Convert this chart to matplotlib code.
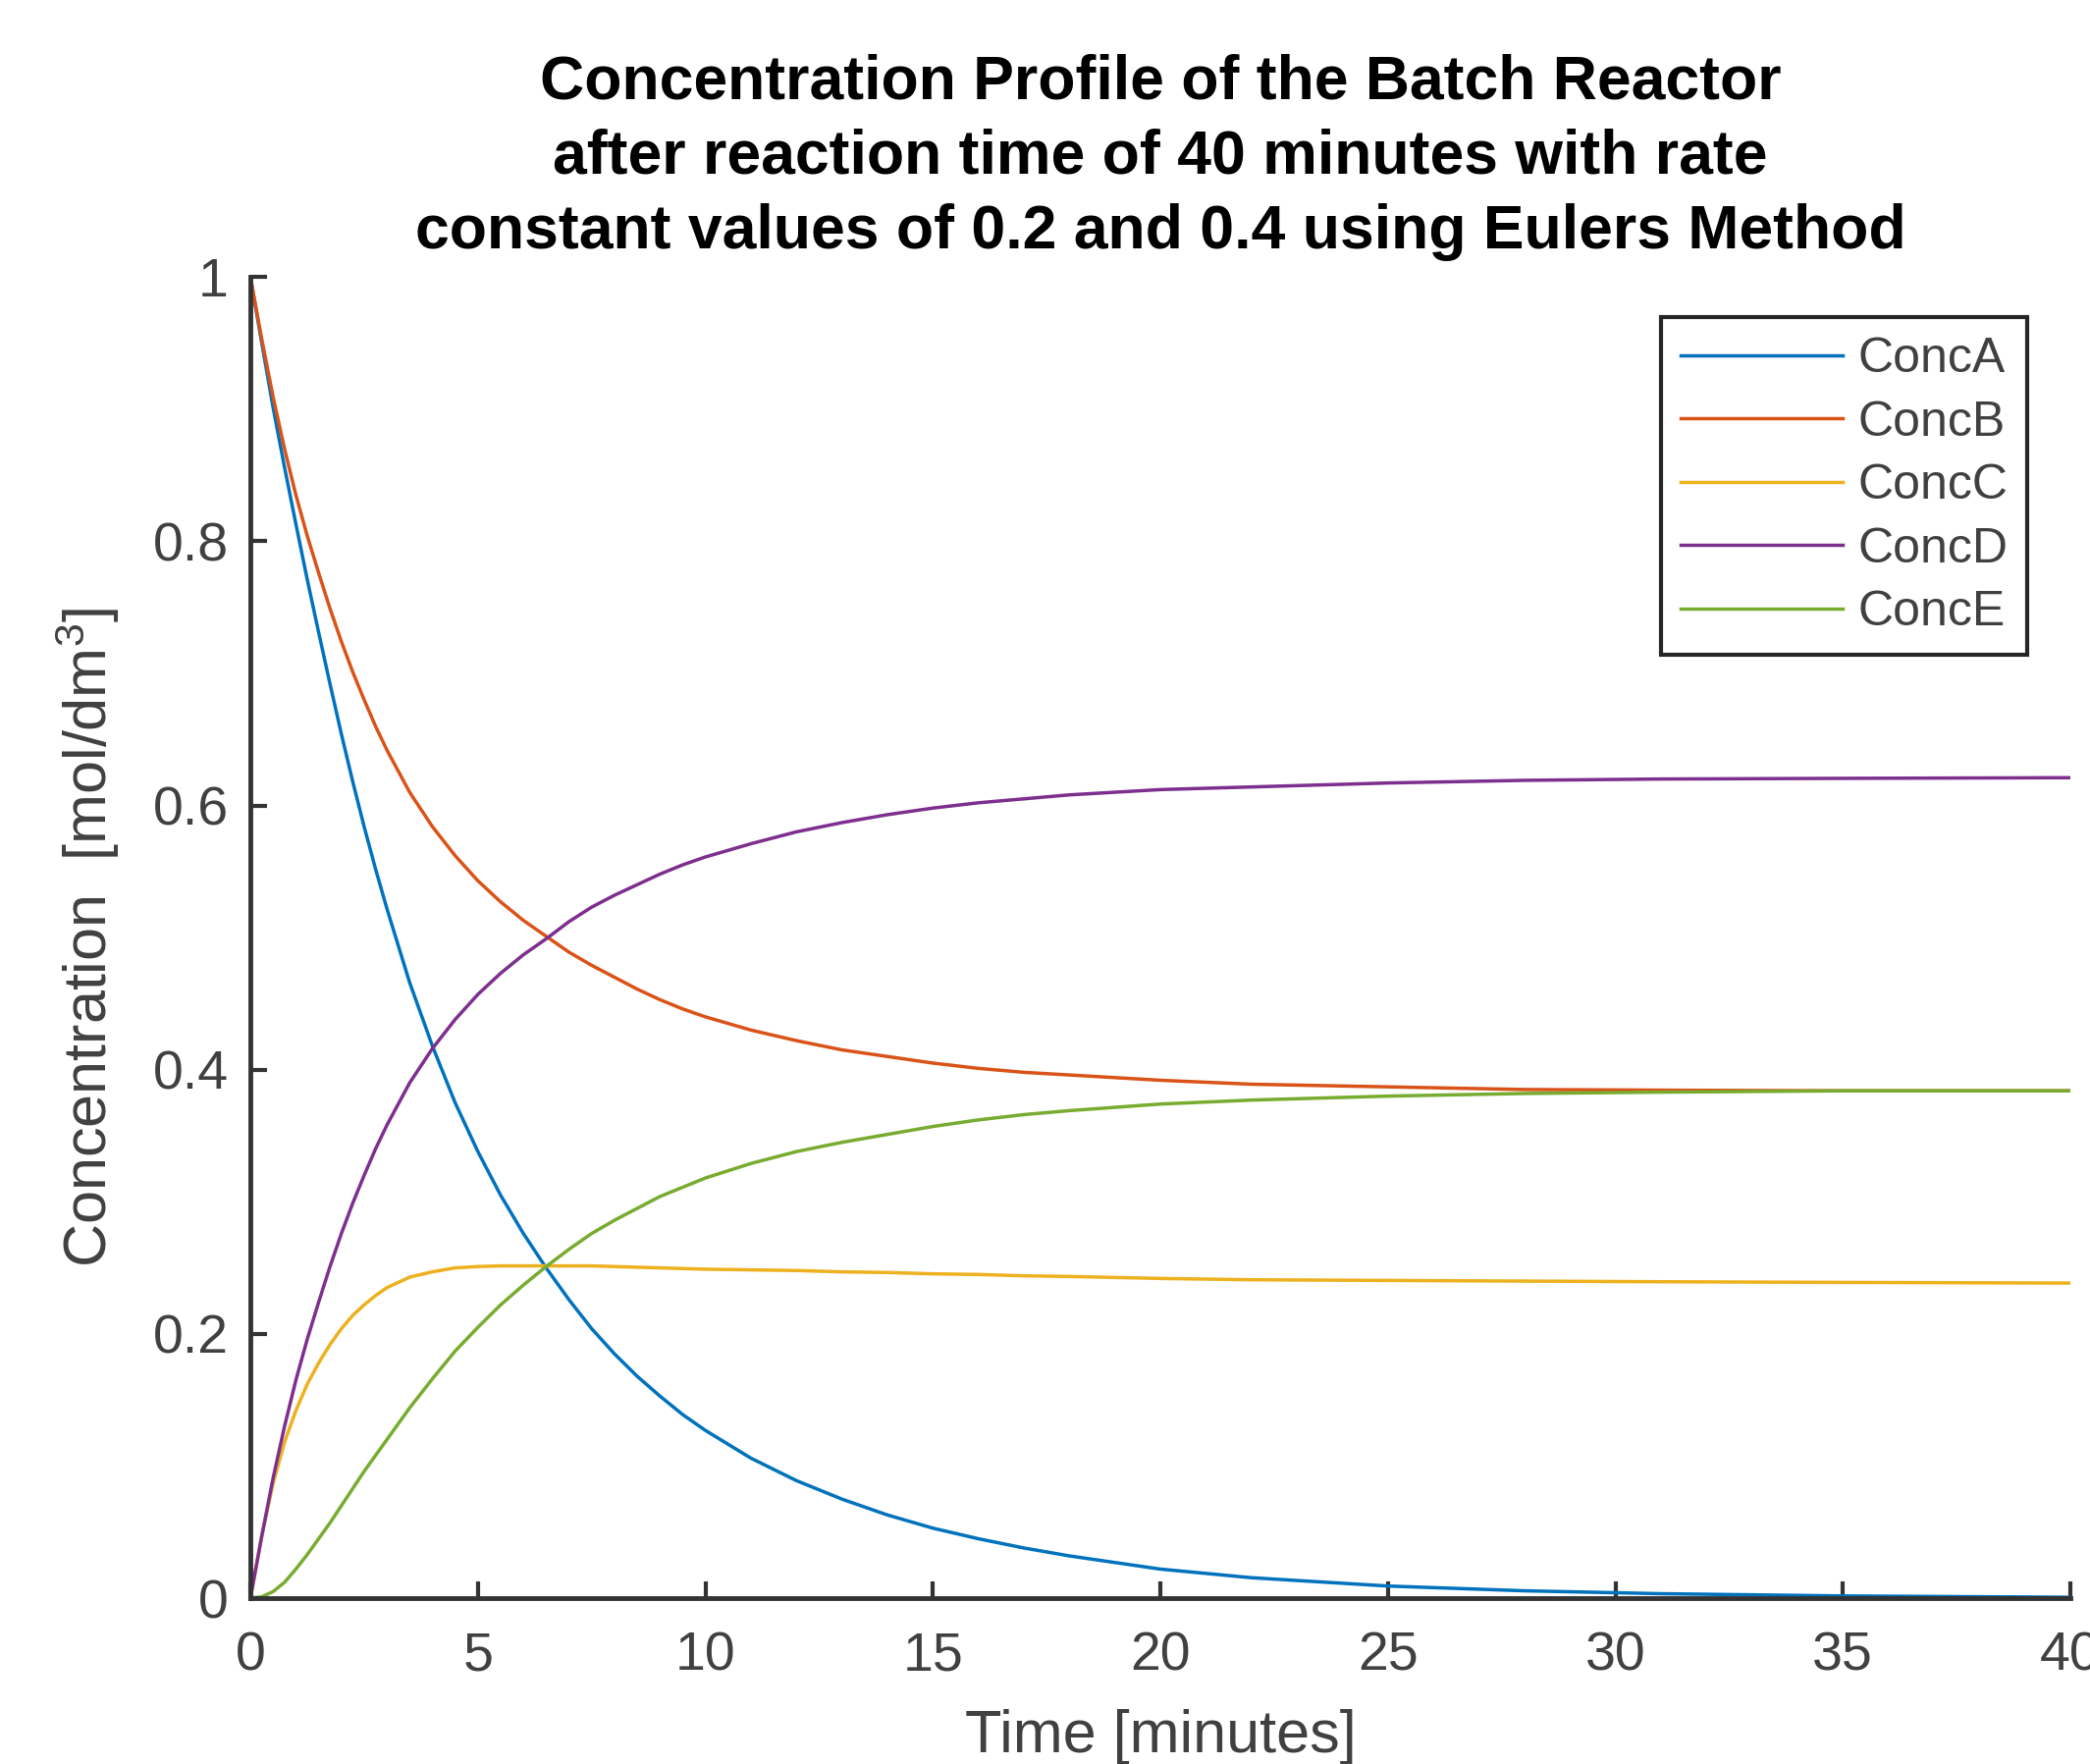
import matplotlib
matplotlib.use("Agg")
import matplotlib.pyplot as plt

plt.rcParams['font.family'] = ['Liberation Sans', 'DejaVu Sans']
plt.rcParams['mathtext.default'] = 'regular'

# values
time_min = [0, 0.25, 0.5, 0.75, 1, 1.25, 1.5, 1.75, 2, 2.25, 2.5, 2.75, 3, 3.5, 4,
            4.5, 5, 5.5, 6, 6.5, 7, 7.5, 8, 8.5, 9, 9.5, 10, 11, 12, 13, 14, 15,
            16, 17, 18, 20, 22, 25, 28, 31, 35, 40]
conc_a = [1.000, 0.950, 0.901, 0.856, 0.813, 0.771, 0.731, 0.692, 0.654, 0.618,
          0.584, 0.552, 0.522, 0.466, 0.418, 0.375, 0.338, 0.305, 0.276, 0.250,
          0.226, 0.204, 0.185, 0.168, 0.153, 0.139, 0.127, 0.106, 0.089, 0.075,
          0.063, 0.053, 0.045, 0.038, 0.032, 0.022, 0.0155, 0.0092, 0.0056,
          0.0034, 0.0017, 0.0007]
conc_b = [1.000, 0.953, 0.909, 0.870, 0.835, 0.804, 0.776, 0.749, 0.724, 0.701,
          0.680, 0.660, 0.642, 0.610, 0.584, 0.562, 0.543, 0.527, 0.513, 0.501,
          0.489, 0.479, 0.470, 0.461, 0.453, 0.446, 0.440, 0.430, 0.422, 0.415,
          0.410, 0.405, 0.401, 0.398, 0.396, 0.392, 0.389, 0.387, 0.385, 0.3845,
          0.384, 0.384]
conc_c = [0, 0.047, 0.087, 0.118, 0.142, 0.162, 0.178, 0.192, 0.204, 0.214,
          0.222, 0.229, 0.235, 0.243, 0.247, 0.250, 0.251, 0.2515, 0.2515, 0.2515,
          0.2515, 0.2515, 0.251, 0.2505, 0.250, 0.2495, 0.249, 0.2485, 0.248,
          0.247, 0.2465, 0.2455, 0.245, 0.244, 0.2435, 0.242, 0.241, 0.2405,
          0.240, 0.2395, 0.239, 0.2385]
conc_d = [0, 0.047, 0.091, 0.130, 0.165, 0.196, 0.224, 0.251, 0.276, 0.299,
          0.320, 0.340, 0.358, 0.390, 0.416, 0.438, 0.457, 0.473, 0.487, 0.499,
          0.512, 0.523, 0.532, 0.540, 0.548, 0.555, 0.561, 0.571, 0.580, 0.587,
          0.593, 0.598, 0.602, 0.605, 0.608, 0.612, 0.614, 0.617, 0.619, 0.620,
          0.6205, 0.621]
conc_e = [0, 0.001, 0.005, 0.012, 0.022, 0.033, 0.045, 0.057, 0.070, 0.083,
          0.096, 0.108, 0.120, 0.144, 0.166, 0.187, 0.205, 0.222, 0.237, 0.251,
          0.264, 0.276, 0.286, 0.295, 0.304, 0.311, 0.318, 0.329, 0.338, 0.345,
          0.351, 0.357, 0.362, 0.366, 0.369, 0.374, 0.377, 0.380, 0.382, 0.383,
          0.384, 0.384]

labels = ['ConcA', 'ConcB', 'ConcC', 'ConcD', 'ConcE']
colors = ['#0072BD', '#D95319', '#EDB120', '#7E2F8E', '#77AC30']
x_ticks = [0, 5, 10, 15, 20, 25, 30, 35, 40]
y_ticks = [0, 0.2, 0.4, 0.6, 0.8, 1]
y_tick_labels = ['0', '0.2', '0.4', '0.6', '0.8', '1']

axis_col = '#333333'

fig = plt.figure(figsize=(21.29, 17.97), dpi=100)
ax = fig.add_axes([0.1198, 0.0940, 0.8708, 0.7490])

for series, label, col in zip([conc_a, conc_b, conc_c, conc_d, conc_e], labels, colors):
    ax.plot(time_min, series, color=col, linewidth=2.5, label=label)

ax.set_xlim(0, 40)
ax.set_ylim(0, 1)
ax.set_xticks(x_ticks)
ax.set_yticks(y_ticks)
ax.set_yticklabels(y_tick_labels)

for side in ['top', 'right']:
    ax.spines[side].set_visible(False)
for side in ['left', 'bottom']:
    ax.spines[side].set_linewidth(3.5)
    ax.spines[side].set_color(axis_col)

ax.tick_params(axis='both', direction='in', length=12, width=3, color=axis_col,
               labelsize=40, labelcolor='#404040')
ax.tick_params(axis='x', pad=24)
ax.tick_params(axis='y', pad=16)

ax.set_xlabel('Time [minutes]', fontsize=44, color='#404040')
ax.set_ylabel('Concentration  [mol/dm$^3$]', fontsize=44, color='#404040')
ax.xaxis.set_label_coords(0.5, -0.0836)
ax.yaxis.set_label_coords(-0.0707, 0.5)

ax.set_title('Concentration Profile of the Batch Reactor\n'
             'after reaction time of 40 minutes with rate\n'
             'constant values of 0.2 and 0.4 using Eulers Method',
             fontsize=45, fontweight='bold', color='black', pad=21,
             linespacing=1.37)

leg = ax.legend(loc='upper right', bbox_to_anchor=(0.9763, 0.9696), borderaxespad=0,
                fontsize=36, frameon=True, fancybox=False, handlelength=3.3,
                handletextpad=0.3, labelspacing=0.37, borderpad=0.4)
leg.get_frame().set_edgecolor('#262626')
leg.get_frame().set_linewidth(3)
leg.get_frame().set_alpha(1)
for txt in leg.get_texts():
    txt.set_color('#404040')

fig.savefig('out.png', dpi=100)
